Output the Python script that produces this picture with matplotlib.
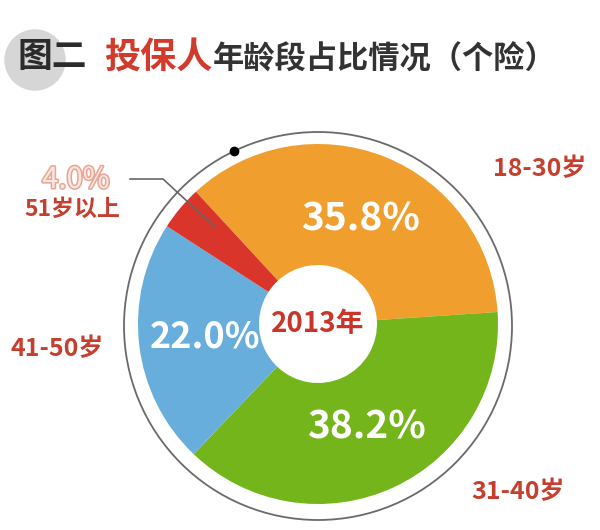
import matplotlib
matplotlib.use("Agg")
import matplotlib.pyplot as plt
import matplotlib.patheffects as pe
from matplotlib.patches import Circle
from math import cos, sin, radians

plt.rcParams["font.family"] = ["Noto Sans CJK SC", "DejaVu Sans"]

# data
categories = ["18-30岁", "31-40岁", "41-50岁", "51岁以上"]
shares = [35.8, 38.2, 22.0, 4.0]
colors = ["#F09E2E", "#74B51C", "#67AEDC", "#D9352A"]
year_label = "2013年"

W, H = 600, 530
LABEL_RED = "#C63E2E"


def py(y):
    # picture rows (top down) -> axes y (bottom up)
    return H - y


fig = plt.figure(figsize=(W / 100, H / 100), dpi=100)
ax = fig.add_axes([0, 0, 1, 1])

cx, cy, r = 318, py(324), 180
hole = 59
wedges, texts, pcts = ax.pie(
    shares,
    colors=colors,
    startangle=132.7,
    counterclock=False,
    center=(cx, cy),
    radius=r,
    autopct="%.1f%%",
    pctdistance=0.63,
    wedgeprops=dict(width=r - hole, linewidth=0),
    textprops=dict(color="white", fontsize=28, fontweight="bold"),
)
pcts[2].set_fontsize(26)
pcts[3].set_visible(False)

ax.set_xlim(0, W)
ax.set_ylim(0, H)
ax.set_aspect("equal")
ax.axis("off")

# outer thin ring with the black dot
ring_c = (318, py(326))
ring_r = 194
ax.add_patch(Circle(ring_c, ring_r, fill=False, ec="#6a6a6a", lw=1.3))
a = radians(115.8)
ax.plot(ring_c[0] + ring_r * cos(a), ring_c[1] + ring_r * sin(a), "o",
        color="black", ms=6, zorder=5)

# year in the centre
ax.text(cx, cy, year_label, ha="center", va="center", fontsize=20,
        fontweight="bold", color="#C8352B")

# category labels
label_pos = [(540, 169), (518, 492), (57, 349), (72, 209)]
label_size = [18, 18, 18, 16.5]
for name, (x, y), fs in zip(categories, label_pos, label_size):
    ax.text(x, py(y), name, ha="center", va="center", fontsize=fs,
            fontweight="bold", color=LABEL_RED)

# small slice value with leader line
ax.text(76, py(180), f"{shares[3]:.1f}%", ha="center", va="center",
        fontsize=21, color="#FBE6DF",
        path_effects=[pe.withStroke(linewidth=2.2, foreground="#E8A595")])
ax.plot([130, 163, 215], [py(179), py(179), py(227)], color="#666666",
        lw=1.2, zorder=4)

# title
ax.add_patch(Circle((35, py(60)), 30, color="#D6D6D6", zorder=1))
ax.text(17, py(57), "图二", ha="left", va="center", fontsize=25,
        fontweight="bold", color="#2b2b2b", zorder=2)
ax.text(104, py(57), "投保人", ha="left", va="center", fontsize=26,
        fontweight="bold", color="#D23B2B")
ax.text(213, py(60), "年龄段占比情况（个险）", ha="left", va="center",
        fontsize=22.5, fontweight="bold", color="#333333")

fig.savefig("out.png", dpi=100, facecolor="white")
